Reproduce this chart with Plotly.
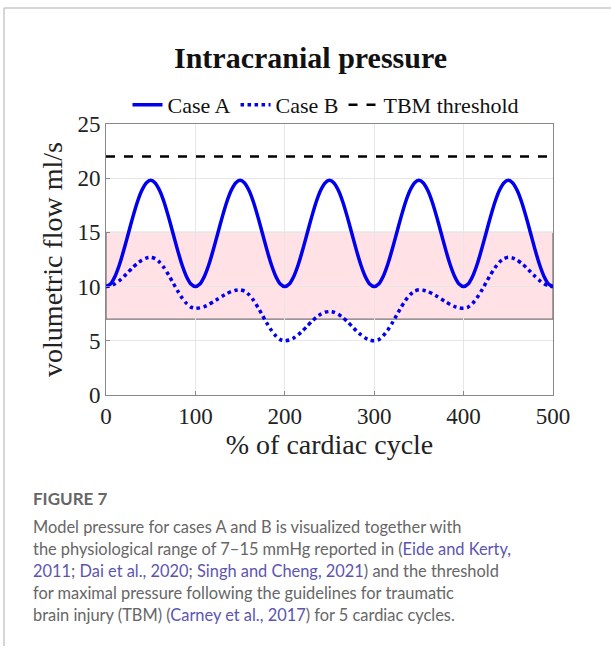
import plotly.graph_objects as go

# ---- data ----
x_pct = list(range(0, 501, 5))
case_a_cycle = [10.0, 10.24, 10.94, 12.02, 13.39, 14.9, 16.41, 17.78, 18.86, 19.56,
                19.8, 19.56, 18.86, 17.78, 16.41, 14.9, 13.39, 12.02, 10.94, 10.24]
case_a = case_a_cycle * 5 + [10.0]
case_b = [10.0, 10.07, 10.26, 10.56, 10.93, 11.35, 11.77, 12.14, 12.44, 12.63,
          12.7, 12.58, 12.25, 11.73, 11.08, 10.35, 9.62, 8.97, 8.45, 8.11,
          8.0, 8.04, 8.16, 8.35, 8.59, 8.85, 9.11, 9.35, 9.54, 9.66,
          9.7, 9.58, 9.25, 8.73, 8.08, 7.35, 6.62, 5.97, 5.45, 5.11,
          5.0, 5.07, 5.26, 5.56, 5.93, 6.35, 6.77, 7.14, 7.44, 7.63,
          7.7, 7.63, 7.44, 7.14, 6.77, 6.35, 5.93, 5.56, 5.26, 5.07,
          5.0, 5.11, 5.45, 5.97, 6.62, 7.35, 8.08, 8.73, 9.25, 9.58,
          9.7, 9.66, 9.54, 9.35, 9.11, 8.85, 8.59, 8.35, 8.16, 8.04,
          8.0, 8.11, 8.45, 8.97, 9.62, 10.35, 11.08, 11.73, 12.25, 12.58,
          12.7, 12.63, 12.44, 12.14, 11.77, 11.35, 10.93, 10.56, 10.26, 10.07,
          10.0]
tbm_x = [0, 500]
tbm_y = [22, 22]
physio_range = [7, 15]
x_ticks = [0, 100, 200, 300, 400, 500]
y_ticks = [0, 5, 10, 15, 20, 25]

W, H = 611, 649
L, R, T, B = 106, 58, 124, 254
pw, ph = W - L - R, H - T - B

def px(xp):
    return (xp - L) / pw

def py(yp):
    return (H - B - yp) / ph

serif = "Liberation Serif, Times New Roman, serif"
sans = "Lato, Open Sans, sans-serif"

fig = go.Figure()
fig.add_trace(go.Scatter(x=x_pct, y=case_a, mode="lines", name="Case A",
                         line=dict(color="#0000ee", width=3.5, shape="spline", smoothing=0.6)))
fig.add_trace(go.Scatter(x=x_pct, y=case_b, mode="lines", name="Case B",
                         line=dict(color="#0000ee", width=3.5, dash="dot", shape="spline", smoothing=0.6)))
fig.add_trace(go.Scatter(x=tbm_x, y=tbm_y, mode="lines", name="TBM threshold",
                         line=dict(color="black", width=2.5, dash="dash")))

fig.add_shape(type="rect", xref="x", yref="y", x0=0, x1=500,
              y0=physio_range[0], y1=physio_range[1],
              fillcolor="#ffe1e6", line=dict(color="#555555", width=1), layer="below")

axis_common = dict(showgrid=True, gridcolor="#e6e6e6", gridwidth=1,
                   showline=True, linecolor="#888888", linewidth=1, mirror=True,
                   ticks="inside", ticklen=4, tickcolor="#888888",
                   zeroline=False, tickfont=dict(family=serif, size=23, color="#222222"))

fig.update_xaxes(range=[0, 500], tickvals=x_ticks,
                 title=dict(text="% of cardiac cycle", font=dict(family=serif, size=28, color="#222222"),
                            standoff=4),
                 **axis_common)
fig.update_yaxes(range=[0, 25], tickvals=y_ticks,
                 title=dict(text="volumetric flow ml/s", font=dict(family=serif, size=28, color="#222222"),
                            standoff=6),
                 **axis_common)

# frame lines
fig.add_shape(type="line", xref="paper", yref="paper", x0=px(4), x1=px(611), y0=py(8), y1=py(8),
              line=dict(color="#c8c8c8", width=1.5))
fig.add_shape(type="line", xref="paper", yref="paper", x0=px(4), x1=px(4), y0=py(8), y1=py(646),
              line=dict(color="#c8c8c8", width=1.5))

annotations = [
    dict(text="<b>Intracranial pressure</b>", x=px(310), y=py(57), xanchor="center", yanchor="middle",
         font=dict(family=serif, size=30, color="#111111")),
    dict(text="<b>FIGURE 7</b>", x=px(31), y=py(498), xanchor="left", yanchor="middle",
         font=dict(family=sans, size=17, color="#666666")),
]
link = "#5c55b0"
lines = [
    "Model pressure for cases A and B is visualized together with",
    "the physiological range of 7\u201315 mmHg reported in (<span style='color:%s'>Eide and Kerty,</span>" % link,
    "<span style='color:%s'>2011</span>; <span style='color:%s'>Dai et al., 2020</span>; <span style='color:%s'>Singh and Cheng, 2021</span>) and the threshold" % (link, link, link),
    "for maximal pressure following the guidelines for traumatic",
    "brain injury (TBM) (<span style='color:%s'>Carney et al., 2017</span>) for 5 cardiac cycles." % link,
]
ys = [526, 548, 570, 592, 614]
for t, yy in zip(lines, ys):
    annotations.append(dict(text=t, x=px(31), y=py(yy), xanchor="left", yanchor="middle",
                            font=dict(family=sans, size=16.4, color="#666666")))
for a in annotations:
    a.update(xref="paper", yref="paper", showarrow=False)

fig.update_layout(
    width=W, height=H,
    margin=dict(l=L, r=R, t=T, b=B),
    paper_bgcolor="white", plot_bgcolor="white",
    annotations=annotations,
    showlegend=True,
    legend=dict(orientation="h", x=px(326), y=py(105), xanchor="center", yanchor="middle",
                font=dict(family=serif, size=22, color="#111111"),
                itemwidth=30, tracegroupgap=0, bgcolor="rgba(0,0,0,0)"),
)

fig.write_html("out.html")
